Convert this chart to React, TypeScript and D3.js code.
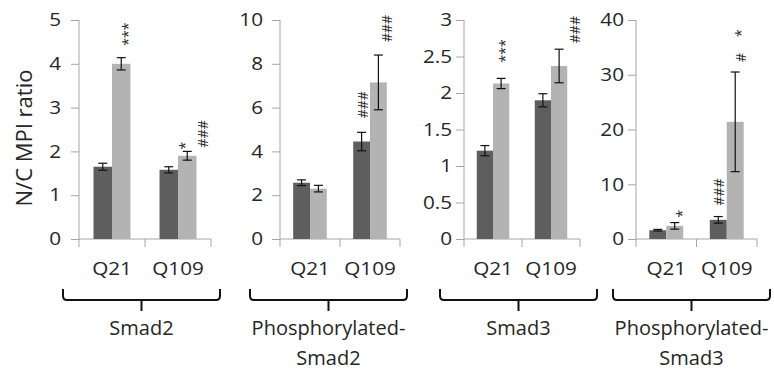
import React, { useEffect, useRef } from "react";
import * as d3 from "d3";

// ---- data ----
const proteinLabelLines = [
  ["Smad2"],
  ["Phosphorylated-", "Smad2"],
  ["Smad3"],
  ["Phosphorylated-", "Smad3"],
];
const variants = ["Q21", "Q109"];
const seriesKeys = ["dark", "light"];

// [protein][variant]
const darkMeans = [
  [1.65, 1.58],
  [2.57, 4.45],
  [1.21, 1.9],
  [1.6, 3.5],
];
const darkErrors = [
  [0.08, 0.07],
  [0.13, 0.42],
  [0.07, 0.09],
  [0.15, 0.6],
];
const lightMeans = [
  [4.0, 1.9],
  [2.3, 7.15],
  [2.13, 2.37],
  [2.4, 21.4],
];
const lightErrors = [
  [0.14, 0.1],
  [0.15, 1.25],
  [0.07, 0.23],
  [0.6, 9.1],
];

const yMaxima = [5, 10, 3, 40];
const yTicks = [
  [0, 1, 2, 3, 4, 5],
  [0, 2, 4, 6, 8, 10],
  [0, 0.5, 1, 1.5, 2, 2.5, 3],
  [0, 10, 20, 30, 40],
];
const yAxisTitle = "N/C MPI ratio";

// significance marks, drawn rotated above a bar
const annotations = [
  { protein: 0, variant: "Q21", series: "light", text: "***" },
  { protein: 0, variant: "Q109", series: "light", text: "*" },
  { protein: 0, variant: "Q109", series: "light", text: "###" },
  { protein: 1, variant: "Q109", series: "dark", text: "###" },
  { protein: 1, variant: "Q109", series: "light", text: "###" },
  { protein: 2, variant: "Q21", series: "light", text: "***" },
  { protein: 2, variant: "Q109", series: "light", text: "###" },
  { protein: 3, variant: "Q21", series: "light", text: "*" },
  { protein: 3, variant: "Q109", series: "dark", text: "###" },
  { protein: 3, variant: "Q109", series: "light", text: "#" },
  { protein: 3, variant: "Q109", series: "light", text: "*" },
];

// ---- layout / style ----
const W = 774;
const H = 375;
const plotTop = 20;
const plotBottom = 239;
const font = "'Open Sans', sans-serif";
const axisColor = "#a6a6a6";
const textColor = "#262626";
const colors: Record<string, string> = { dark: "#5e5e5e", light: "#b3b3b3" };

const panels = [
  { left: 79, right: 211, labelPad: 10, braceLeft: 63 },
  { left: 280, right: 400, labelPad: 9, braceLeft: 250 },
  { left: 464, right: 580, labelPad: 4, braceLeft: 440 },
  { left: 636, right: 757, labelPad: 4, braceLeft: 613 },
];
const braceWidth = 157;
// dx from bar centre, gap above error bar top
const annotationPlacement = [
  { dx: 6, gap: 12 },
  { dx: -3, gap: 2 },
  { dx: 15, gap: 4 },
  { dx: 1, gap: 14 },
  { dx: 8, gap: 13 },
  { dx: 3, gap: 16 },
  { dx: 15, gap: 6 },
  { dx: 7, gap: 5 },
  { dx: 0, gap: 11 },
  { dx: 5, gap: 10 },
  { dx: 5, gap: 35 },
];

function draw(el: SVGSVGElement) {
  const svg = d3.select(el);
  svg.selectAll("*").remove();

  panels.forEach((pl, i) => {
    const g = svg.append("g");
    const y = d3.scaleLinear().domain([0, yMaxima[i]]).range([plotBottom, plotTop]);
    const x = d3.scaleBand().domain(variants).range([pl.left, pl.right]);
    const bw = x.bandwidth();
    const xs = d3.scaleBand().domain(seriesKeys).range([bw * 0.22, bw * 0.78]);

    // y axis ticks + labels
    const yAxis = d3
      .axisLeft(y)
      .tickValues(yTicks[i])
      .tickSize(8)
      .tickSizeOuter(0)
      .tickPadding(pl.labelPad)
      .tickFormat(d3.format("~g") as any);
    const ya = g.append("g").attr("transform", `translate(${pl.left},0)`).call(yAxis);
    ya.select(".domain").remove();
    ya.selectAll("line").attr("stroke", axisColor);
    ya.selectAll("text")
      .attr("font-family", font)
      .attr("font-size", 18)
      .attr("fill", textColor)
      .attr("x", -(8 + pl.labelPad) / 1.15)
      .attr("transform", "scale(1.15,1)");

    // axis lines
    g.append("line")
      .attr("x1", pl.left).attr("x2", pl.left)
      .attr("y1", plotTop).attr("y2", plotBottom + 8)
      .attr("stroke", axisColor);
    g.append("line")
      .attr("x1", pl.left).attr("x2", pl.right)
      .attr("y1", plotBottom).attr("y2", plotBottom)
      .attr("stroke", axisColor);
    variants.forEach((v) => {
      const xb = (x(v) as number) + bw;
      g.append("line")
        .attr("x1", xb).attr("x2", xb)
        .attr("y1", plotBottom).attr("y2", plotBottom + 8)
        .attr("stroke", axisColor);
    });

    // category labels
    variants.forEach((v) => {
      const cx = (x(v) as number) + bw / 2;
      g.append("text")
        .attr("transform", `translate(${cx},275) scale(1.15,1)`)
        .attr("text-anchor", "middle")
        .attr("font-family", font)
        .attr("font-size", 18)
        .attr("fill", textColor)
        .text(v);
    });

    // bars + error bars
    variants.forEach((v, vi) => {
      seriesKeys.forEach((s) => {
        const m = s === "dark" ? darkMeans[i][vi] : lightMeans[i][vi];
        const e = s === "dark" ? darkErrors[i][vi] : lightErrors[i][vi];
        const bx = (x(v) as number) + (xs(s) as number);
        g.append("rect")
          .attr("x", bx)
          .attr("y", y(m))
          .attr("width", xs.bandwidth())
          .attr("height", plotBottom - y(m))
          .attr("fill", colors[s]);
        const cx = bx + xs.bandwidth() / 2;
        const eb = g.append("g").attr("stroke", "#111").attr("stroke-width", 1.2);
        eb.append("line").attr("x1", cx).attr("x2", cx).attr("y1", y(m - e)).attr("y2", y(m + e));
        [m - e, m + e].forEach((val) => {
          eb.append("line")
            .attr("x1", cx - 4.5).attr("x2", cx + 4.5)
            .attr("y1", y(val)).attr("y2", y(val));
        });
      });
    });

    // annotations for this panel
    annotations.forEach((a, ai) => {
      if (a.protein !== i) return;
      const vi = variants.indexOf(a.variant);
      const m = a.series === "dark" ? darkMeans[i][vi] : lightMeans[i][vi];
      const e = a.series === "dark" ? darkErrors[i][vi] : lightErrors[i][vi];
      const cx = (x(a.variant) as number) + (xs(a.series) as number) + xs.bandwidth() / 2;
      const p = annotationPlacement[ai];
      g.append("text")
        .attr("transform", `translate(${cx + p.dx},${y(m + e) - p.gap}) rotate(-90)`)
        .attr("text-anchor", "start")
        .attr("dominant-baseline", "central")
        .attr("font-family", font)
        .attr("font-size", 14)
        .attr("fill", textColor)
        .text(a.text);
    });

    // brace under the panel
    const bl = pl.braceLeft;
    const br = bl + braceWidth;
    const bc = bl + braceWidth / 2;
    g.append("path")
      .attr("d", `M${bl},289 V296 Q${bl},300 ${bl + 4},300 H${br - 4} Q${br},300 ${br},296 V289 M${bc},300 V311`)
      .attr("fill", "none")
      .attr("stroke", "#111")
      .attr("stroke-width", 2);

    // protein label
    const lines = proteinLabelLines[i];
    const t = g.append("text")
      .attr("text-anchor", "middle")
      .attr("font-family", font)
      .attr("font-size", 20)
      .attr("fill", textColor);
    lines.forEach((ln, li) => {
      t.append("tspan").attr("x", bc).attr("y", 335 + li * 30).text(ln);
    });
  });

  // y-axis title
  svg.append("text")
    .attr("transform", `translate(23,138) rotate(-90)`)
    .attr("text-anchor", "middle")
    .attr("dominant-baseline", "central")
    .attr("font-family", font)
    .attr("font-size", 22)
    .attr("fill", textColor)
    .text(yAxisTitle);
}

export default function App() {
  const ref = useRef<SVGSVGElement>(null);
  useEffect(() => {
    if (ref.current) draw(ref.current);
  }, []);
  return (
    <svg
      ref={ref}
      width={W}
      height={H}
      style={{ position: "absolute", left: 0, top: 0, background: "#fff" }}
    />
  );
}
